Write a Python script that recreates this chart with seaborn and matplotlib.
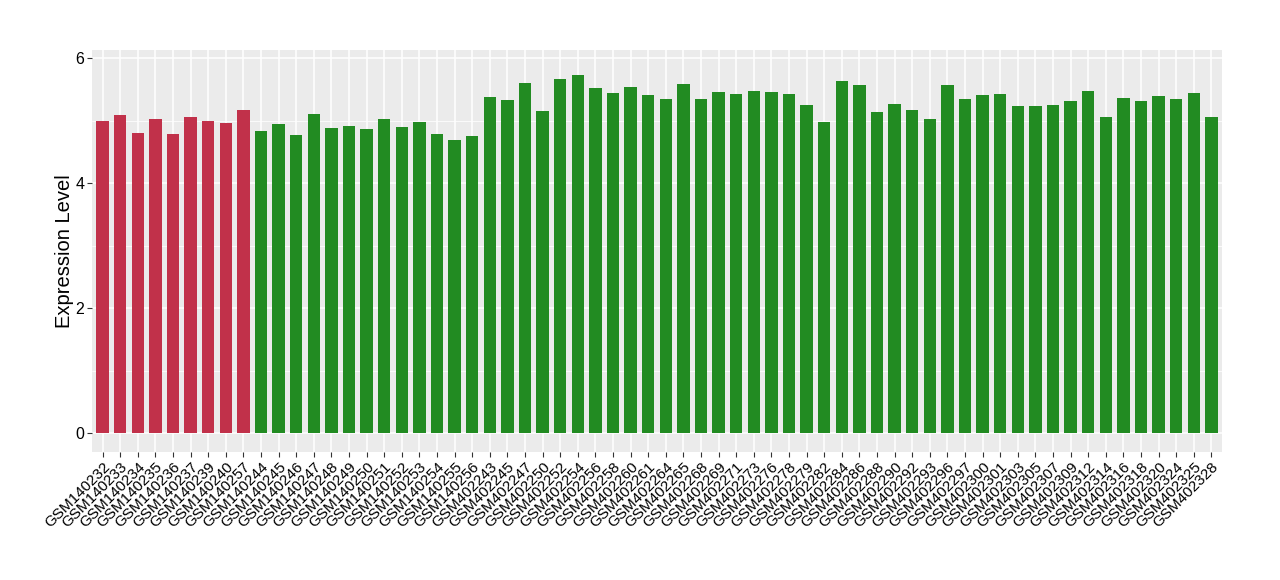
import matplotlib
matplotlib.use("Agg")
import matplotlib.pyplot as plt
import seaborn as sns
import pandas as pd
from matplotlib.ticker import MultipleLocator

samples = [
    "GSM140232", "GSM140233", "GSM140234", "GSM140235", "GSM140236", "GSM140237",
    "GSM140239", "GSM140240", "GSM140257",
    "GSM140244", "GSM140245", "GSM140246", "GSM140247", "GSM140248", "GSM140249",
    "GSM140250", "GSM140251", "GSM140252", "GSM140253", "GSM140254", "GSM140255",
    "GSM140256",
    "GSM402243", "GSM402245", "GSM402247", "GSM402250", "GSM402252", "GSM402254",
    "GSM402256", "GSM402258", "GSM402260", "GSM402261", "GSM402264", "GSM402265",
    "GSM402268", "GSM402269", "GSM402271", "GSM402273", "GSM402276", "GSM402278",
    "GSM402279", "GSM402282", "GSM402284", "GSM402286", "GSM402288", "GSM402290",
    "GSM402292", "GSM402293", "GSM402296", "GSM402297", "GSM402300", "GSM402301",
    "GSM402303", "GSM402305", "GSM402307", "GSM402309", "GSM402312", "GSM402314",
    "GSM402316", "GSM402318", "GSM402320", "GSM402324", "GSM402325", "GSM402328",
]
values = [
    4.99, 5.09, 4.80, 5.02, 4.78, 5.06, 4.99, 4.96, 5.17,
    4.83, 4.94, 4.77, 5.10, 4.88, 4.91, 4.86, 5.02, 4.90, 4.98, 4.78, 4.69, 4.75,
    5.38, 5.33, 5.60, 5.15, 5.66, 5.73, 5.52, 5.44, 5.54, 5.41, 5.34, 5.58,
    5.34, 5.46, 5.42, 5.47, 5.46, 5.42, 5.25, 4.98, 5.63, 5.57,
    5.14, 5.26, 5.17, 5.02, 5.57, 5.34, 5.41, 5.42, 5.23, 5.23, 5.25, 5.31,
    5.47, 5.06, 5.36, 5.31, 5.39, 5.34, 5.44, 5.06,
]
groups = ["red"] * 9 + ["green"] * 55
palette = {"red": "#C1314A", "green": "#228B22"}
y_ticks = [0, 2, 4, 6]

df = pd.DataFrame({"sample": samples, "value": values, "group": groups})

sns.set_theme(style="darkgrid")
plt.rcParams["font.family"] = ["Liberation Sans", "DejaVu Sans"]

fig = plt.figure(figsize=(12.8, 5.8), dpi=100)
ax = fig.add_axes([92 / 1280, 1 - 452 / 580, 1130 / 1280, 402 / 580])
ax.set_facecolor("#EBEBEB")

sns.barplot(data=df, x="sample", y="value", hue="group", palette=palette,
            width=0.7, dodge=False, legend=False, ax=ax, saturation=1,
            linewidth=0, edgecolor="none")

ax.set_xlim(-0.6, len(samples) - 1 + 0.6)
ax.set_ylim(-0.304, 6.128)
ax.set_yticks(y_ticks)
ax.yaxis.set_minor_locator(MultipleLocator(1))
ax.grid(which="major", color="white", linewidth=1.1)
ax.grid(which="minor", axis="y", color="white", linewidth=0.55)
ax.set_axisbelow(True)
for s in ax.spines.values():
    s.set_visible(False)

ax.set_xlabel("")
ax.set_ylabel("Expression Level", fontsize=14.5, color="black", labelpad=1)
ax.tick_params(axis="both", which="major", length=3.5, width=0.8, color="#333333",
               labelcolor="black", pad=2, bottom=True, left=True)
ax.tick_params(axis="y", which="minor", length=0, left=False)
ax.tick_params(axis="y", labelsize=11.5)
plt.setp(ax.get_xticklabels(), rotation=45, ha="right", rotation_mode="anchor",
         fontsize=11)

fig.savefig("out.png", dpi=100, facecolor="white")
